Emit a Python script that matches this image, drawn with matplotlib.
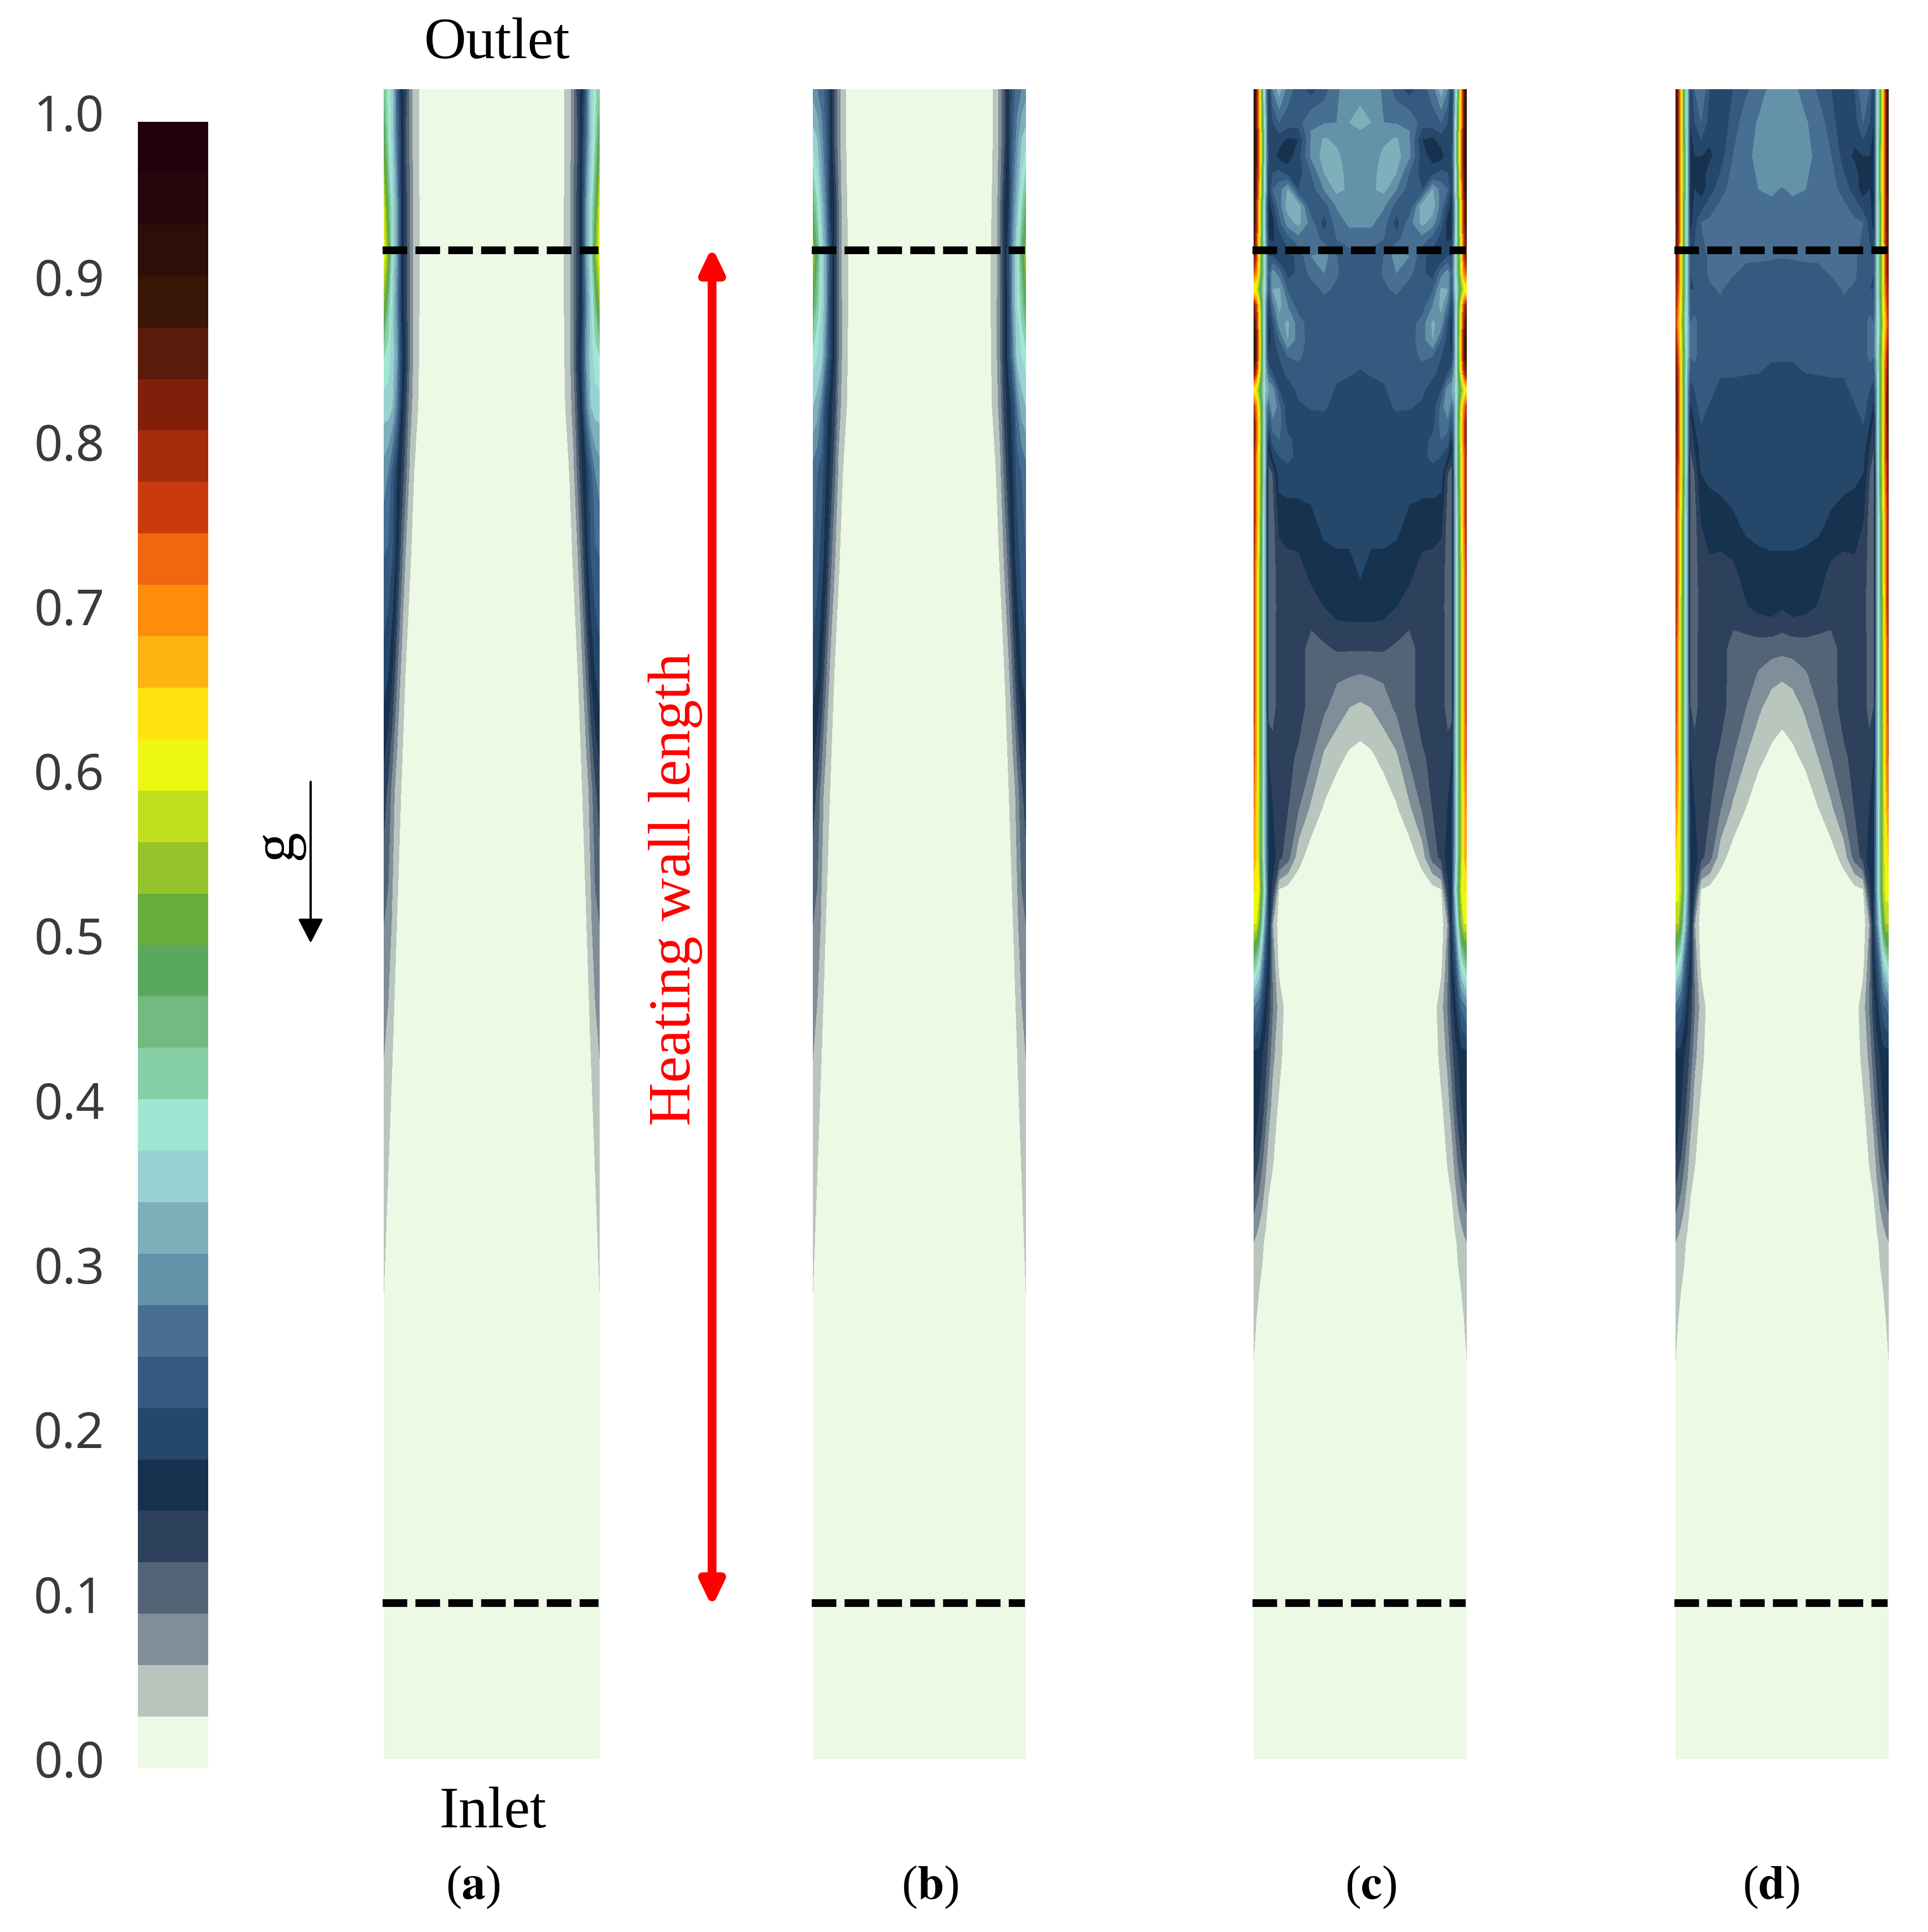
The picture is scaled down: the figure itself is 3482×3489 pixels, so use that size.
import numpy as np
import matplotlib
matplotlib.use("Agg")
import matplotlib.pyplot as plt

W, H = 3482, 3489

# colour bands, bottom to top
band_colors = ["#ECF9E4", "#B9C6BE", "#7F8E99", "#536476", "#2D415C", "#16324F", "#25476A", "#355A80",
               "#486F92", "#6492A8", "#80AFBC", "#98D2D2", "#A0E6D2", "#87CFA6", "#72BA80", "#5AA860",
               "#68AD3C", "#96C22C", "#C0DF1E", "#ECF811", "#FFE30F", "#FFB310", "#FF8D0C", "#F0670F",
               "#C93A0C", "#A52C0C", "#80200B", "#5A1C0A", "#371606", "#2C0F0A", "#26080C", "#22000C"]
tick_vals = [0.0, 0.1, 0.2, 0.3, 0.4, 0.5, 0.6, 0.7, 0.8, 0.9, 1.0]
panel_names = ["(a)", "(b)", "(c)", "(d)"]
heating_top = 0.9035
heating_bottom = 0.0935

# field values, in colour band units (32 bands = 1.0)
# x = distance from the wall / channel width, y = height / channel height
s_thin = [0, .02, .04, .06, .08, .10, .12, .14, .16, .18, .5]
y_thin = [1.0, .97, .93, .90, .87, .84, .81, .77, .72, .65, .58, .50, .42, .35, .28, 0]
field_a = [
    [14, 12.5, 11.5, 8, 5.5, 4.5, 2.8, 1.5, 1.1, .2, .2],
    [16, 13, 11.5, 8.5, 6, 4, 2.8, 1.5, 1.1, .2, .2],
    [19, 15, 12, 10, 6, 4.5, 3, 1.7, 1.2, .3, .2],
    [19.5, 17, 12, 10, 6, 4.5, 3, 1.6, 1.3, .3, .2],
    [17, 14, 11.5, 9.5, 6, 4.5, 3, 1.7, 1.2, .3, .2],
    [13, 12.5, 11.5, 10, 6.5, 5, 3, 1.7, 1.1, .3, .2],
    [11.5, 11.5, 11, 9, 6, 4.3, 2.4, 1.6, .95, .2, .2],
    [9.5, 9, 7.5, 6, 5, 3.3, 1.8, 1, .5, .2, .2],
    [8, 7.8, 7, 5.5, 3.5, 2, 1.2, .5, .2, .2, .2],
    [6.5, 6, 5, 3.2, 1.8, 1, .3, .2, .2, .2, .2],
    [4.5, 3.8, 2.5, 1.5, 1, .4, .2, .2, .2, .2, .2],
    [3, 2.7, 1.8, 1, .3, .2, .2, .2, .2, .2, .2],
    [2, 1.5, 1, .5, .2, .2, .2, .2, .2, .2, .2],
    [1.5, 1, .5, .2, .2, .2, .2, .2, .2, .2, .2],
    [1, .4, .2, .2, .2, .2, .2, .2, .2, .2, .2],
    [.2, .2, .2, .2, .2, .2, .2, .2, .2, .2, .2],
]
field_b = [
    [9.5, 9, 8.5, 7.5, 6, 4, 2.5, 1.3, .9, .2, .2],
    [11.5, 11, 9.5, 8, 6, 4, 2.5, 1.3, .9, .2, .2],
    [15, 13, 11, 9, 6, 5, 3, 1.5, 1, .3, .2],
    [18, 15, 12, 10, 7, 5, 3, 1.5, 1.2, .3, .2],
    [15.5, 13.5, 12, 10, 6.5, 5, 3, 1.7, 1.2, .3, .2],
    [12.5, 12, 11.5, 9, 6.5, 5, 3, 1.7, 1.1, .3, .2],
    [11, 10.5, 9, 6.5, 5.5, 4.5, 2.4, 1.6, .95, .2, .2],
    [8.5, 8, 7.5, 6, 5, 3.3, 1.8, 1, .5, .2, .2],
    [8, 7.5, 6.5, 5.5, 3.5, 2.2, 1.2, .5, .2, .2, .2],
    [6.5, 6, 5, 3.2, 1.8, 1, .3, .2, .2, .2, .2],
    [4.5, 3.8, 2.5, 1.5, 1, .4, .2, .2, .2, .2, .2],
    [3, 2.7, 1.8, 1, .3, .2, .2, .2, .2, .2, .2],
    [2, 1.5, 1, .5, .2, .2, .2, .2, .2, .2, .2],
    [1.5, 1, .5, .2, .2, .2, .2, .2, .2, .2, .2],
    [1, .4, .2, .2, .2, .2, .2, .2, .2, .2, .2],
    [.2, .2, .2, .2, .2, .2, .2, .2, .2, .2, .2],
]

s_wide = [0, .012, .025, .04, .055, .07, .09, .12, .16, .21, .27, .33, .39, .45, .5]
y_c = [1.0, .98, .97, .96, .95, .94, .93, .92, .91, .90, .89, .88, .87, .86, .85, .84, .83, .82, .81, .80, .79,
       .78, .77, .74, .71, .69, .665, .65, .63, .60, .57, .54, .52, .50, .48, .45, .42, .39, .36, .31, .24, 0]
field_c = [
    [30, 27, 22, 15, 10, 6, 9, 10.5, 8.5, 7.5, 6.5, 7.5, 8.8, 9.6, 9.7],
    [30, 27, 22, 16, 11, 6, 7, 8, 7.5, 7.5, 8.9, 8.9, 9, 10, 10.3],
    [30, 28, 23, 17, 11, 6, 6.8, 6.5, 5.8, 6, 9.1, 10.1, 9.8, 9.6, 9.6],
    [30, 28, 23, 17, 11, 7, 6.5, 5.5, 5.5, 6.5, 9.2, 10.4, 10.2, 9.5, 9.5],
    [30, 27, 23, 16, 11, 6, 7, 7.3, 6.5, 6.5, 8, 10, 10.5, 9.5, 9.5],
    [30, 27, 22, 16, 11, 6, 8, 8.5, 10, 7, 7.5, 9, 10.3, 9.8, 9.5],
    [29, 26, 21, 15, 10, 5.5, 6.5, 8.5, 10.5, 10.5, 7, 7.5, 9.1, 9.5, 9.5],
    [29, 26, 21, 15, 10, 5.5, 5.5, 7.5, 9.5, 10.3, 8.5, 6.5, 8.5, 9.2, 9.2],
    [28, 25, 20, 15, 10.5, 6, 5.8, 6.5, 7.5, 8.5, 9, 7.5, 8, 8.5, 8.5],
    [27, 25, 20, 15, 11, 7, 7, 6, 6.5, 7.3, 9, 9.5, 8, 7.5, 7.5],
    [24, 23, 19, 15, 11, 7.5, 9.5, 8.5, 6.5, 7.2, 8.3, 9, 8.1, 7.5, 7.5],
    [19, 19, 17, 14, 11, 7, 10, 10.2, 7.8, 7.2, 7.5, 8.2, 7.8, 7.5, 7.5],
    [27, 25, 20, 15, 10, 6, 8.5, 10.3, 9, 7.5, 7.5, 7.5, 7.5, 7.5, 7.5],
    [29, 26, 21, 15, 10, 5.5, 7, 9.5, 10.2, 8.4, 7.5, 7.5, 7.5, 7.5, 7.5],
    [30, 27, 22, 15, 10, 5.5, 6.5, 8, 10, 8.5, 7.5, 7.5, 7.5, 7.5, 7.5],
    [30, 27, 22, 15, 10, 6, 6.5, 7, 8, 8.2, 7.5, 7.5, 7.5, 7.5, 7.3],
    [27, 25, 20, 15, 10.5, 8, 7, 6.5, 7.3, 7.5, 7.5, 7.5, 7.3, 7.1, 6.9],
    [20, 19, 17, 14, 11, 10, 9.5, 7, 6.2, 7.3, 7.4, 7.6, 6.8, 6.5, 6.5],
    [25, 23, 19, 15, 10, 8, 10, 8.3, 6.3, 6.8, 7.1, 7.2, 6.5, 6.5, 6.5],
    [27, 24, 20, 15, 10, 7, 8.5, 8.5, 6.5, 6.5, 6.5, 6.5, 6.5, 6.5, 6.5],
    [27, 24, 20, 15, 10, 5.5, 7.5, 8, 7.3, 6.5, 6.5, 6.5, 6.5, 6.5, 6.5],
    [26, 23, 19, 15, 10, 4.5, 6, 7, 7.3, 6.7, 6.5, 6.5, 6.5, 6.5, 6.5],
    [26, 23, 19, 15, 10, 3.5, 4, 6.5, 6.5, 6.5, 6.5, 6.5, 6.5, 6.5, 6.5],
    [26, 23, 19, 14, 10, 3.5, 3.5, 5.2, 5.5, 5.5, 5.7, 6.3, 6.5, 6.5, 6.5],
    [25, 22, 18, 14, 10, 3.5, 3.5, 4.5, 4.5, 4.6, 5.2, 5.4, 5.5, 5.5, 6.1],
    [25, 22, 18, 14, 10, 3.5, 3.5, 4.4, 4.5, 4.5, 4.6, 5, 5.4, 5.5, 5.5],
    [25, 22, 18, 14, 10, 3.5, 3.5, 4.5, 4.5, 4.5, 3.5, 3.8, 4.1, 4.1, 4.1],
    [25, 22, 18, 14, 10, 3.5, 3.5, 4.5, 4.5, 4.5, 3.5, 3.5, 3.2, 3.1, 3],
    [25, 22, 18, 14, 10, 3.5, 3.5, 4.5, 4.5, 4.5, 3.5, 3.2, 2.5, 2, 1.8],
    [24, 22, 18, 14, 10, 5, 4.5, 4.5, 4.3, 3.8, 3.1, 1.8, 1.3, .8, .6],
    [23, 21, 18, 14, 10, 5.5, 5, 4.5, 4.05, 3.1, 1.8, .9, .3, .3, .3],
    [22, 21, 18, 14, 10, 6, 5.5, 4.3, 3.4, 1.4, .4, .2, .2, .2, .2],
    [20, 20, 19, 15, 11, 6, 4.5, .8, .5, .3, .2, .2, .2, .2, .2],
    [19, 19, 17, 13, 9, 6, 2, .4, .2, .2, .2, .2, .2, .2, .2],
    [15, 14, 13, 10, 7, 5.5, 2.5, .6, .3, .2, .2, .2, .2, .2, .2],
    [9, 8.5, 8, 6.5, 5.5, 4.5, 3, 1.5, .5, .2, .2, .2, .2, .2, .2],
    [5.5, 5.5, 5.5, 5, 4.5, 3.5, 2.2, 1.3, .3, .2, .2, .2, .2, .2, .2],
    [6, 5.5, 5, 4.5, 3.5, 2.5, 1.5, .8, .2, .2, .2, .2, .2, .2, .2],
    [5, 4.5, 4, 3.2, 2.4, 1.5, 1.1, .3, .2, .2, .2, .2, .2, .2, .2],
    [2, 1.8, 1.5, 1.2, .8, .4, .2, .2, .2, .2, .2, .2, .2, .2, .2],
    [1, .6, .3, .2, .2, .2, .2, .2, .2, .2, .2, .2, .2, .2, .2],
    [.2, .2, .2, .2, .2, .2, .2, .2, .2, .2, .2, .2, .2, .2, .2],
]
y_d = [1.0, .98, .96, .95, .94, .93, .92, .90, .89, .88, .86, .84, .82, .80, .785, .77, .74, .71, .69, .665, .65, .63,
       .60, .57, .54, .52, .50, .48, .45, .42, .39, .36, .31, .24, 0]
field_d = [
    [29, 26, 21, 15, 11, 6, 8, 9, 7, 6, 7, 7.8, 8.5, 9.3, 9.3],
    [29, 26, 21, 15, 11, 6, 7, 8, 6.5, 6, 7.5, 8.5, 9.1, 9.5, 9.5],
    [29, 26, 21, 16, 11, 6, 6, 6, 5.8, 6.5, 8, 8.7, 9.3, 9.5, 9.5],
    [29, 26, 21, 16, 11, 5.5, 6, 5.5, 6.3, 7, 8.3, 8.7, 9.1, 9.5, 9.5],
    [29, 26, 21, 16, 11, 5, 6, 5.5, 6.5, 7.5, 8.5, 8.7, 9, 9.2, 8.9],
    [28, 26, 21, 15, 11, 5, 6.5, 6.5, 7.5, 8.2, 8.5, 8.6, 8.7, 8.7, 8.7],
    [28, 26, 21, 15, 11, 5.5, 6.5, 8, 8.2, 8.3, 8.4, 8.5, 8.5, 8.5, 8.5],
    [27, 25, 20, 15, 11, 7, 7.3, 7.5, 8.2, 8.4, 8.3, 8.2, 8.2, 8.1, 8.05],
    [27, 25, 20, 15, 11, 7, 7.2, 7.3, 8.2, 8.3, 8.1, 7.7, 7.6, 7.6, 7.6],
    [26, 24, 20, 15, 11, 7, 7, 7.3, 7.8, 8.1, 7.5, 7.5, 7.5, 7.5, 7.5],
    [25, 22, 19, 14, 11, 8, 8.3, 7.5, 7.5, 7.5, 7.5, 7.5, 7.5, 7.5, 7.5],
    [27, 24, 20, 15, 11, 8, 8.2, 7.5, 7.5, 7.5, 7.5, 7.5, 7.5, 7.1, 7.1],
    [28, 25, 20, 15, 10, 6.5, 7, 7.3, 7.3, 6.7, 6.7, 6.6, 6.5, 6.5, 6.5],
    [28, 25, 20, 15, 10, 4.5, 6, 7, 6.5, 6.5, 6.5, 6.5, 6.5, 6.5, 6.5],
    [27, 25, 20, 15, 10, 4, 5, 6.5, 6.3, 6.4, 6.5, 6.5, 6.5, 6.5, 6.5],
    [27, 24, 20, 15, 10, 3.5, 4, 6, 6.2, 6.3, 6.5, 6.5, 6.5, 6.5, 6.5],
    [26, 23, 19, 14, 10, 3.5, 3.5, 5, 5.5, 5.6, 5.8, 6.2, 6.4, 6.6, 6.6],
    [26, 23, 19, 14, 10, 3.5, 3.5, 4.5, 4.7, 4.5, 4.7, 5.4, 5.5, 5.5, 5.5],
    [26, 23, 18, 14, 10, 3.5, 3.5, 4.3, 4.5, 4.5, 4.6, 4.9, 5.3, 5.5, 5.1],
    [25, 22, 18, 14, 10, 3.5, 3.5, 4.5, 4.5, 4.5, 3.5, 3.5, 3.5, 3.4, 3.3],
    [25, 22, 18, 14, 10, 3.5, 3.5, 4.5, 4.5, 4.5, 3.5, 3.5, 2.9, 2.4, 2.2],
    [25, 22, 18, 14, 10, 4, 3.5, 4.5, 4.5, 4.4, 3.5, 3, 2.2, 1.5, 1.3],
    [24, 22, 18, 14, 10, 5, 4.5, 4.5, 4.3, 3.8, 3, 2, 1.2, .8, .6],
    [23, 21, 18, 14, 10, 5.5, 5, 4.5, 4.05, 3.1, 1.8, 1, .4, .3, .3],
    [21, 20, 18, 14, 10, 6, 5.5, 4.3, 3.4, 1.4, .5, .3, .2, .2, .2],
    [19.5, 19.5, 18, 14, 10, 6, 4.5, .8, .5, .3, .2, .2, .2, .2, .2],
    [18, 18, 16, 12, 9, 6, 2, .4, .2, .2, .2, .2, .2, .2, .2],
    [14, 13, 12, 9, 7, 5.5, 2.5, .6, .3, .2, .2, .2, .2, .2, .2],
    [8.5, 8, 7.5, 6.5, 5.5, 4.5, 3, 1.5, .5, .2, .2, .2, .2, .2, .2],
    [5.5, 5.5, 5.5, 5, 4.5, 3.5, 2.2, 1.3, .3, .2, .2, .2, .2, .2, .2],
    [6, 5.5, 5, 4.5, 3.5, 2.5, 1.5, .8, .2, .2, .2, .2, .2, .2, .2],
    [5, 4.5, 4, 3.2, 2.4, 1.5, 1.1, .3, .2, .2, .2, .2, .2, .2, .2],
    [2, 1.8, 1.5, 1.2, .8, .4, .2, .2, .2, .2, .2, .2, .2, .2, .2],
    [1, .6, .3, .2, .2, .2, .2, .2, .2, .2, .2, .2, .2, .2, .2],
    [.2, .2, .2, .2, .2, .2, .2, .2, .2, .2, .2, .2, .2, .2, .2],
]

fig = plt.figure(figsize=(W / 100, H / 100), dpi=100, facecolor="white")


def px_axes(x0, y0, x1, y1):
    # axes from picture pixels, y counted from the top
    return fig.add_axes([x0 / W, 1 - y1 / H, (x1 - x0) / W, (y1 - y0) / H])


def draw_panel(x0, x1, s, y, field):
    ax = px_axes(x0, 161, x1, 3177)
    half = np.array(field) / 32
    z = np.hstack([half, half[:, -2::-1]])
    xs = np.concatenate([s, 1 - np.array(s)[-2::-1]])
    ax.contourf(xs, y, z, levels=np.arange(33) / 32, colors=band_colors)
    ax.set_xlim(0, 1)
    ax.set_ylim(0, 1)
    ax.axis("off")
    for h in [heating_top, heating_bottom]:
        ax.plot([-0.005, 0.995], [h, h], color="black", lw=10, dashes=(3.2, 1.07), clip_on=False, zorder=5)
    return ax


panel_x = [(693, 1083), (1468, 1853), (2264, 2649), (3026, 3411)]
fields = [(s_thin, y_thin, field_a), (s_thin, y_thin, field_b), (s_wide, y_c, field_c), (s_wide, y_d, field_d)]
for (x0, x1), (s, y, f) in zip(panel_x, fields):
    draw_panel(x0, x1, s, y, f)

# colour bar
cax = px_axes(249, 220, 376, 3193)
for i, c in enumerate(band_colors):
    cax.barh(i, 1, height=1, align="edge", color=c, lw=0)
cax.set_xlim(0, 1)
cax.set_ylim(0, 32)
cax.axis("off")

# bar labels sit a little above the band edges
lax = px_axes(60, 205, 249, 3178)
lax.set_xlim(0, 1)
lax.set_ylim(0, 1)
lax.axis("off")
for v in tick_vals:
    lax.text(0.68, v - 0.003, "%.1f" % v, ha="right", va="center", fontsize=65, family="Noto Sans", color="#3a3a3a")

# annotations in picture pixels
ov = fig.add_axes([0, 0, 1, 1], zorder=10)
ov.set_xlim(0, W)
ov.set_ylim(H, 0)
ov.axis("off")
ov.patch.set_alpha(0)
serif = "Liberation Serif"
ov.text(897, 80, "Outlet", ha="center", va="center", fontsize=76, family=serif)
ov.text(890, 3275, "Inlet", ha="center", va="center", fontsize=76, family=serif)
for name, xc in zip(panel_names, [854, 1680, 2476, 3199]):
    letter = name[1]
    ov.text(xc, 3408, r"(" + r"$\mathbf{" + letter + r"}$" + r")", ha="center", va="center", fontsize=62,
            family=serif, math_fontfamily="stix")
ov.text(500, 1526, "g", ha="center", va="center", rotation=90, fontsize=78, family=serif)
ov.annotate("", xy=(561, 1703), xytext=(561, 1412),
            arrowprops=dict(arrowstyle="-|>,head_width=1.4,head_length=2.7", color="black", lw=3, shrinkA=0, shrinkB=0))
ov.text(1220, 1606, "Heating wall length", ha="center", va="center", rotation=90, fontsize=78, family=serif, color="#FF0000")
ov.annotate("", xy=(1286, 446), xytext=(1286, 2902),
            arrowprops=dict(arrowstyle="<|-|>,head_width=1.25,head_length=2.6", color="#FF0000", lw=11.5, shrinkA=0, shrinkB=0))

fig.savefig("out.png", dpi=100)
